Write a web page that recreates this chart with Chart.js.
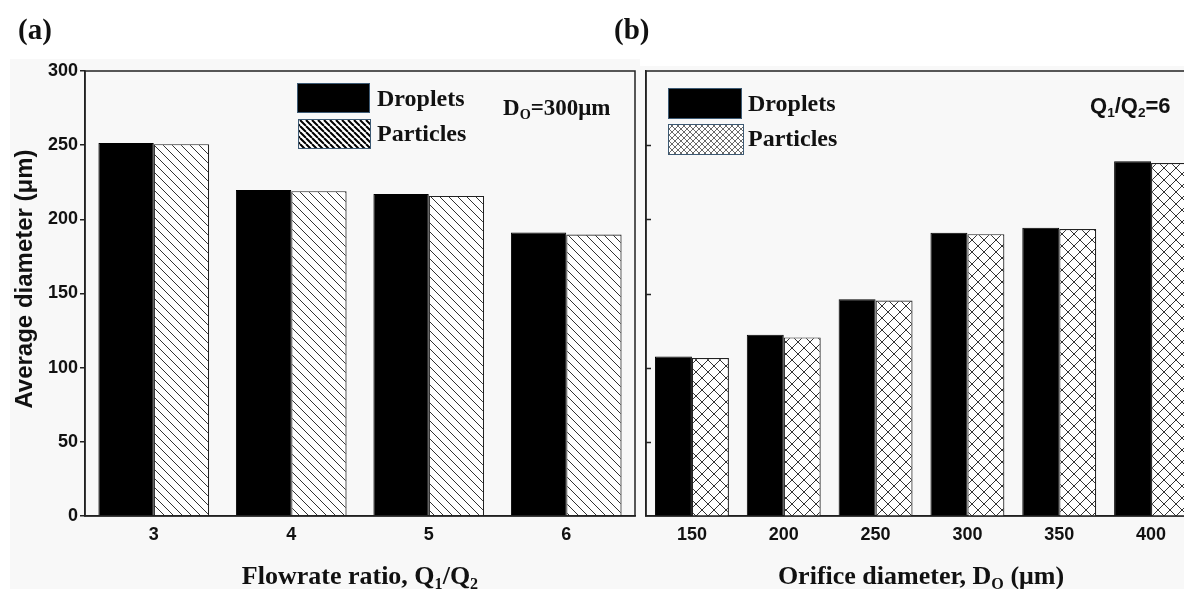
<!DOCTYPE html>
<html>
<head>
<meta charset="utf-8">
<script src="https://cdn.jsdelivr.net/npm/chart.js@4.4.0/dist/chart.umd.min.js"></script>
<style>
  body { margin: 0; width: 1184px; height: 589px; overflow: hidden; position: relative; background: #fff; }
  .bg { position: absolute; background: #f8f8f8; }
  .wrap { position: absolute; top: 0; }
  .txt { position: absolute; white-space: nowrap; line-height: 1; color: #111; }
  .serif { font-family: "Liberation Serif", "Times New Roman", serif; font-weight: bold; }
  .sans { font-family: "Liberation Sans", Arial, sans-serif; font-weight: bold; }
  .sub { font-size: 0.62em; position: relative; top: 0.3em; }
  #ytitle { left: 24px; top: 279px; font-size: 24px; transform: translate(-50%, -50%) rotate(-90deg); }
</style>
</head>
<body>
<div class="bg" style="left:10px; top:59px; width:630px; height:530px"></div>
<div class="bg" style="left:640px; top:66px; width:544px; height:523px"></div>
<div class="wrap" style="left:0; width:640px; height:589px"><canvas id="chartA" width="640" height="589"></canvas></div>
<div class="wrap" style="left:600px; width:600px; height:589px"><canvas id="chartB" width="600" height="589"></canvas></div>

<div class="txt serif" style="left:18px; top:15px; font-size:29px">(a)</div>
<div class="txt serif" style="left:614px; top:15px; font-size:29px">(b)</div>
<div class="txt sans" id="ytitle">Average diameter (μm)</div>
<div class="txt serif" style="left:503px; top:96px; font-size:23px">D<span class="sub">O</span>=300μm</div>
<div class="txt sans" style="left:1090px; top:95px; font-size:22px">Q<span class="sub">1</span>/Q<span class="sub">2</span>=6</div>
<div class="txt serif" style="left:60px; width:600px; text-align:center; top:563px; font-size:26px">Flowrate ratio, Q<span class="sub">1</span>/Q<span class="sub">2</span></div>
<div class="txt serif" style="left:621px; width:600px; text-align:center; top:563px; font-size:26px">Orifice diameter, D<span class="sub">O</span> (μm)</div>
<div id="legendText"></div>

<script>
// datos
const seriesNames = ['Droplets', 'Particles'];
const flowRatios = ['3', '4', '5', '6'];
const dropletsA = [251.5, 219.7, 217.0, 191.2];
const particlesA = [250.7, 219.0, 215.8, 189.8];
const orificeDiameters = ['150', '200', '250', '300', '350', '400'];
const dropletsB = [107.6, 122.2, 146.2, 190.9, 194.3, 239.2];
const particlesB = [106.5, 120.4, 145.3, 190.0, 193.4, 237.9];
const yMin = 0, yMax = 300, yStep = 50;

// padrão de hachura (diagonal ou cruzada)
function hatch(size, lw, color, cross) {
  const c = document.createElement('canvas');
  c.width = c.height = size;
  const g = c.getContext('2d');
  g.fillStyle = '#fff';
  g.fillRect(0, 0, size, size);
  g.strokeStyle = color;
  g.lineWidth = lw;
  g.beginPath();
  for (const o of [-size, 0, size]) {
    g.moveTo(o, 0); g.lineTo(o + size, size);
    if (cross) { g.moveTo(o, size); g.lineTo(o + size, 0); }
  }
  g.stroke();
  return g.createPattern(c, 'repeat');
}

const diagFill = hatch(9, 1, '#333', false);
const crossFill = hatch(12, 1, '#333', true);
const diagLegend = hatch(6, 2, '#000', false);
const crossLegend = hatch(6, 0.8, '#444', true);

const tickFont = { family: '"Liberation Sans", Arial, sans-serif', size: 18, weight: 'bold' };

// moldura + ticks internos + caixas da legenda
function framePlugin(opts) {
  return {
    id: 'frame',
    afterDraw(chart) {
      const { ctx, chartArea: a } = chart;
      ctx.save();
      ctx.strokeStyle = '#222';
      ctx.lineWidth = 1.5;
      ctx.strokeRect(a.left, a.top, a.right - a.left, a.bottom - a.top);
      if (opts.innerTicks) {
        const y = chart.scales.y;
        ctx.beginPath();
        for (let v = yMin + yStep; v < yMax; v += yStep) {
          const py = Math.round(y.getPixelForValue(v)) + 0.5;
          ctx.moveTo(a.left, py);
          ctx.lineTo(a.left + 5, py);
        }
        ctx.stroke();
      }
      opts.legend.forEach(b => {
        ctx.fillStyle = b.fill;
        ctx.fillRect(b.x, b.y, b.w, b.h);
        ctx.strokeStyle = '#3d5a74';
        ctx.lineWidth = 1;
        ctx.strokeRect(b.x + 0.5, b.y + 0.5, b.w, b.h);
      });
      ctx.restore();
    }
  };
}

function makeChart(id, labels, drop, part, partFill, opts) {
  return new Chart(document.getElementById(id), {
    type: 'bar',
    data: {
      labels: labels,
      datasets: [
        { label: seriesNames[0], data: drop, backgroundColor: '#000', borderColor: '#000', borderWidth: 1,
          categoryPercentage: 0.805, barPercentage: 1 },
        { label: seriesNames[1], data: part, backgroundColor: partFill, borderColor: '#222', borderWidth: 1.2,
          categoryPercentage: 0.805, barPercentage: 1 }
      ]
    },
    options: {
      responsive: false,
      animation: false,
      layout: { padding: opts.padding },
      plugins: { legend: { display: false }, tooltip: { enabled: false } },
      scales: {
        x: {
          grid: { display: false },
          border: { display: true, color: '#222', width: 1.5 },
          ticks: { font: tickFont, color: '#111', padding: 0 },
          afterFit: s => { s.height = 73; }
        },
        y: {
          min: yMin, max: yMax,
          ticks: { stepSize: yStep, display: opts.yLabels, font: tickFont, color: '#111', padding: 2 },
          grid: { display: opts.yLabels, drawOnChartArea: false, tickLength: 5, color: '#222', lineWidth: 1.5 },
          border: { display: true, color: '#222', width: 1.5 },
          afterFit: s => { s.width = opts.yWidth; }
        }
      }
    },
    plugins: [framePlugin(opts)]
  });
}

makeChart('chartA', flowRatios, dropletsA, particlesA, diagFill, {
  padding: { top: 71, right: 5, left: 0, bottom: 0 },
  yWidth: 85, yLabels: true, innerTicks: false,
  legend: [
    { x: 297, y: 83, w: 72, h: 29, fill: '#000' },
    { x: 298, y: 119, w: 72, h: 29, fill: diagLegend }
  ]
});

makeChart('chartB', orificeDiameters, dropletsB, particlesB, crossFill, {
  padding: { top: 71, right: 3, left: 0, bottom: 0 },
  yWidth: 46, yLabels: false, innerTicks: true,
  legend: [
    { x: 68, y: 88, w: 73, h: 30, fill: '#000' },
    { x: 68, y: 124, w: 75, h: 30, fill: crossLegend }
  ]
});

// textos da legenda
const legendPos = [
  { x: 377, top: [86, 121] },
  { x: 748, top: [91, 126] }
];
legendPos.forEach(p => {
  seriesNames.forEach((name, i) => {
    const d = document.createElement('div');
    d.className = 'txt serif';
    d.style.left = p.x + 'px';
    d.style.top = p.top[i] + 'px';
    d.style.fontSize = '24px';
    d.textContent = name;
    document.getElementById('legendText').appendChild(d);
  });
});
</script>
</body>
</html>
